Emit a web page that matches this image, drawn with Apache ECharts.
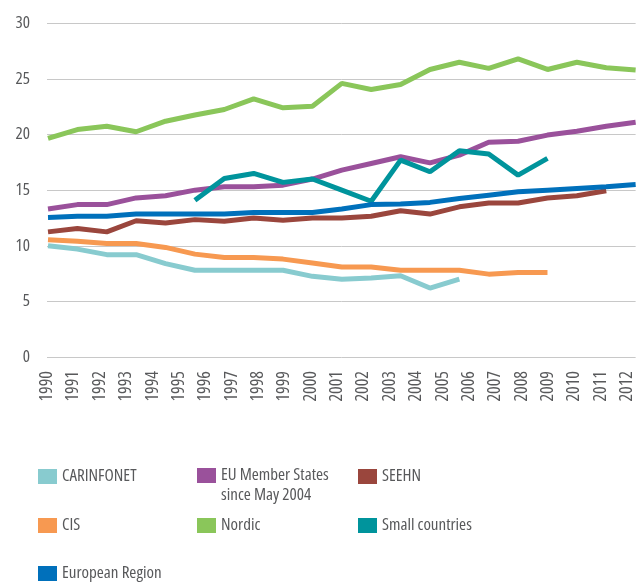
<!DOCTYPE html>
<html><head><meta charset="utf-8">
<script src="https://cdn.jsdelivr.net/npm/echarts@6/dist/echarts.min.js"></script>
<style>html,body{margin:0;padding:0;background:#fff}#c{width:636px;height:582px}</style>
</head><body><div id="c"></div>
<script>
const tickYears = [1990,1991,1992,1993,1994,1995,1996,1997,1998,1999,2000,2001,2002,2003,2004,2005,2006,2007,2008,2009,2010,2011,2012];
const dataYears = [1990,1991,1992,1993,1994,1995,1996,1997,1998,1999,2000,2001,2002,2003,2004,2005,2006,2007,2008,2009,2010];
const yTicks = [0,5,10,15,20,25,30];

const carinfonet = [10.0,9.7,9.2,9.2,8.4,7.8,7.8,7.8,7.8,7.25,7.0,7.1,7.3,6.2,7.0];
const euSince2004 = [13.3,13.7,13.7,14.3,14.5,15.0,15.3,15.3,15.45,16.0,16.8,17.4,18.0,17.45,18.15,19.3,19.4,19.95,20.3,20.75,21.1];
const seehn = [11.25,11.55,11.25,12.25,12.05,12.35,12.2,12.5,12.3,12.5,12.5,12.65,13.15,12.85,13.5,13.85,13.85,14.3,14.5,14.95];
const cis = [10.55,10.4,10.2,10.2,9.85,9.25,8.95,8.95,8.8,8.45,8.1,8.1,7.8,7.8,7.8,7.45,7.6,7.6];
const nordic = [19.65,20.45,20.75,20.25,21.2,21.75,22.25,23.2,22.4,22.55,24.6,24.05,24.5,25.85,26.5,25.95,26.8,25.85,26.5,26.0,25.8];
const smallCountries = [null,null,null,null,null,14.1,16.05,16.5,15.7,16.0,15.0,14.0,17.7,16.65,18.55,18.25,16.35,17.85];
const europeanRegion = [12.55,12.65,12.65,12.85,12.85,12.85,12.85,13.0,13.0,13.0,13.3,13.7,13.75,13.9,14.25,14.55,14.85,15.0,15.15,15.3,15.5];

const seriesNames = ['CARINFONET','EU Member States since May 2004','SEEHN','CIS','Nordic','Small countries','European Region'];
const seriesValues = [carinfonet, euSince2004, seehn, cis, nordic, smallCountries, europeanRegion];
const seriesColors = ['#88cbcf','#9a519b','#9a463d','#f79951','#8ac65a','#00949c','#0070bb'];

const font = 'Open Sans';
const textColor = '#58595b';

const chart = echarts.init(document.getElementById('c'), null, {renderer: 'canvas'});

const series = seriesNames.map((name, i) => ({
  name,
  type: 'line',
  xAxisIndex: 1,
  yAxisIndex: 0,
  data: seriesValues[i].map((v, k) => [dataYears[k], v]).filter(p => p[1] !== null),
  symbol: 'none',
  lineStyle: {width: 5, color: seriesColors[i]},
  itemStyle: {color: seriesColors[i]},
  z: 2 + i
}));

const legendPos = [
  [38, 468], [197, 467], [358, 468],
  [38, 517], [197, 517], [358, 517],
  [38, 565]
];
const legendText = {fontFamily: font, fontWeight: 'condensed', fontSize: 17, color: textColor};
const legends = seriesNames.map((name, i) => {
  const multi = name.indexOf('since') >= 0;
  return {
    data: [name],
    left: legendPos[i][0],
    top: legendPos[i][1],
    padding: 0,
    icon: 'rect',
    itemWidth: 19,
    itemHeight: 15,
    selectedMode: false,
    formatter: n => multi ? '{a|EU Member States}\n{a|since May 2004}' : n,
    textStyle: multi ?
      Object.assign({}, legendText, {padding: [20, 0, 0, 0], rich: {a: Object.assign({}, legendText, {lineHeight: 20})}}) :
      Object.assign({}, legendText, {lineHeight: 15})
  };
});

chart.setOption({
  animation: false,
  backgroundColor: '#ffffff',
  grid: {left: 47, right: 0, top: 23.3, bottom: 225, containLabel: false},
  legend: legends,
  xAxis: [
    {
      type: 'value',
      min: tickYears[0],
      max: tickYears[0] + 589 / 26.38,
      interval: 1,
      axisLine: {show: false},
      axisTick: {show: false},
      splitLine: {show: false},
      axisLabel: {
        rotate: 90, margin: 14, fontSize: 18, fontFamily: font, fontWeight: 'semi-condensed', color: textColor,
        formatter: v => (Number.isInteger(v) && tickYears.indexOf(v) >= 0) ? String(v) : ''
      }
    },
    {
      type: 'value',
      show: false,
      min: dataYears[0] - 1 / 29.4,
      max: dataYears[dataYears.length - 1],
      splitLine: {show: false}
    }
  ],
  yAxis: {
    type: 'value',
    min: yTicks[0],
    max: yTicks[yTicks.length - 1],
    interval: 5,
    axisLine: {show: false},
    axisTick: {show: false},
    splitLine: {lineStyle: {color: '#c8c8c8', width: 1}},
    axisLabel: {fontSize: 17, fontFamily: font, fontWeight: 'semi-condensed', color: textColor, margin: 17}
  },
  series
});
</script></body></html>
